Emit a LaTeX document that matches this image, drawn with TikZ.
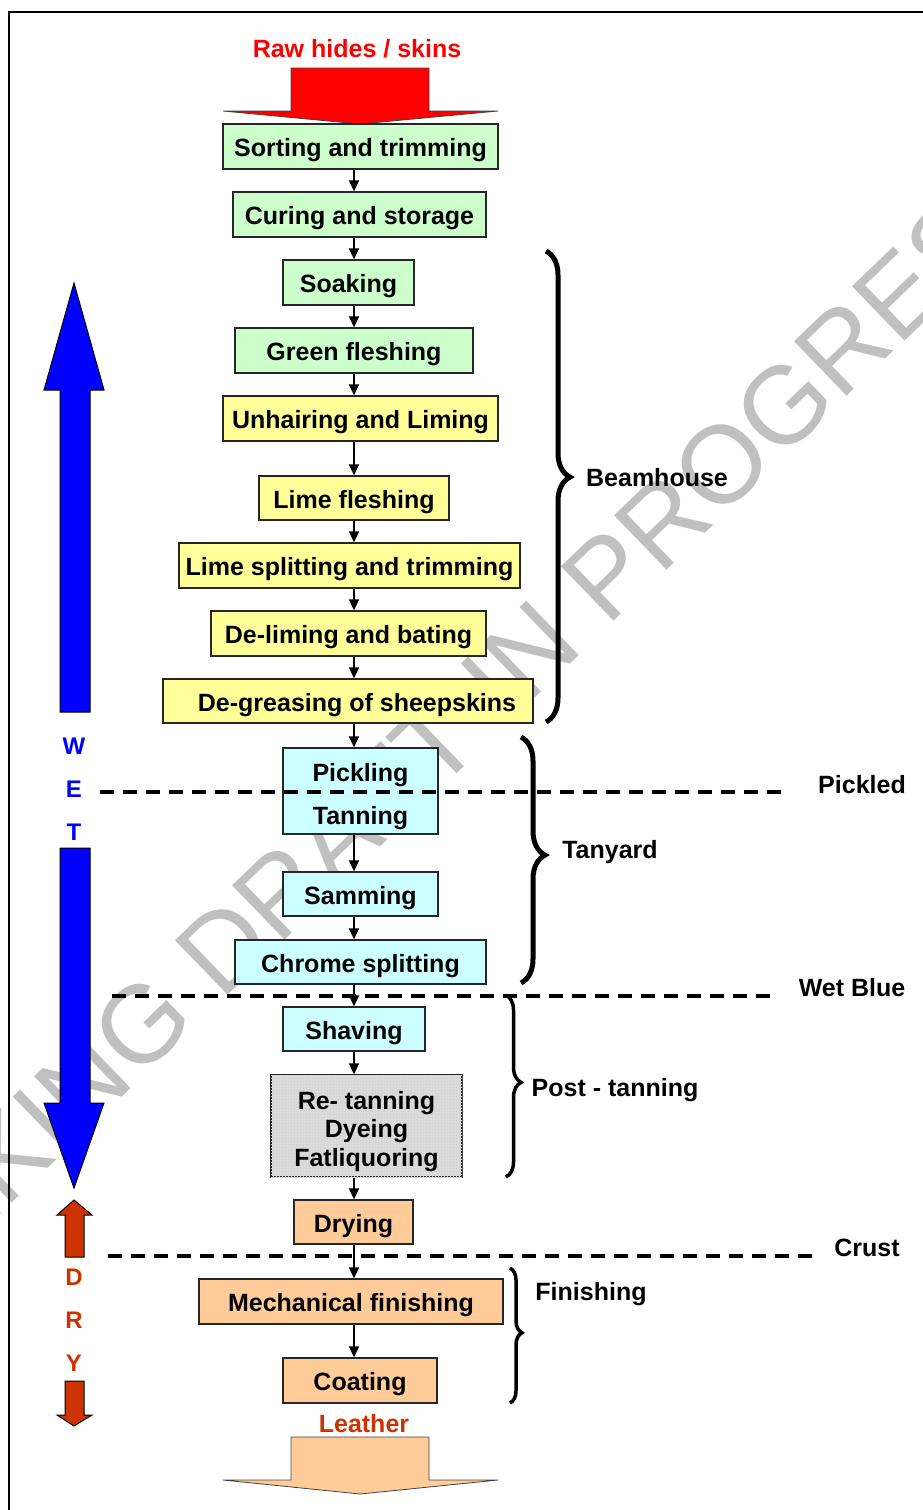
\documentclass[tikz,border=0pt]{standalone}
\usepackage{fontspec}
\setmainfont{Liberation Sans}
\usetikzlibrary{arrows.meta,decorations.pathreplacing,patterns}

\definecolor{stepgreen}{HTML}{CCFFCC}
\definecolor{stepyellow}{HTML}{FFFF99}
\definecolor{stepcyan}{HTML}{CCFFFF}
\definecolor{steporange}{HTML}{FFCC99}
\definecolor{stepgray}{HTML}{DCDCDC}
\definecolor{rawred}{HTML}{FF0000}
\definecolor{leatherred}{HTML}{CC3300}
\definecolor{wetblue}{HTML}{0000FF}
\definecolor{draftgray}{HTML}{C0C0C0}

\begin{document}
\begin{tikzpicture}[x=1pt,y=-1pt,
  stepbox/.style={rectangle,draw=black!85,line width=1.3pt,inner sep=0pt,align=center,
    text height=20pt,text depth=0pt,font=\bfseries\fontsize{25}{28}\selectfont},
  greenbox/.style={stepbox,fill=stepgreen},
  yellowbox/.style={stepbox,fill=stepyellow},
  cyanbox/.style={stepbox,fill=stepcyan},
  orangebox/.style={stepbox,fill=steporange},
  graybox/.style={stepbox,fill=stepgray,postaction={pattern=grid,pattern color=gray!32}},
  flowarrow/.style={-{Triangle[length=11pt,width=10pt]},line width=1.7pt},
  stagelbl/.style={font=\bfseries\fontsize{25}{28}\selectfont},
  sideletter/.style={font=\bfseries\fontsize{24}{26}\selectfont},
  stagedash/.style={line width=4pt,dash pattern=on 14pt off 9pt},
  stagebrace/.style={decorate,decoration={brace,amplitude=#1,aspect=0.48}},
  blockarrow/.style={draw=black!75,line width=0.8pt}]
\useasboundingbox (0,0) rectangle (923,1510);

% watermark
\node[rotate=44,text=draftgray,font=\fontsize{110}{110}\selectfont] (draft) at (408,768) {WORKING DRAFT IN PROGRESS};

% frame
\draw[line width=1.5pt] (9,1510) -- (9,12) -- (923,12);

% input
\node[stagelbl,text=rawred] (rawlbl) at (357,49) {Raw hides / skins};
\draw[blockarrow,fill=rawred] (291,68) -- (429,68) -- (429,111) -- (498,111) -- (360,124) -- (223,111) -- (291,111) -- cycle;

% process steps
\node[greenbox,minimum width=275,minimum height=45] (sort) at (360.5,146.5) {Sorting and trimming};
\node[greenbox,minimum width=253,minimum height=45] (cure) at (359.5,214.5) {Curing and storage};
\node[greenbox,minimum width=131,minimum height=45] (soak) at (348.5,282.5) {Soaking};
\node[greenbox,minimum width=238,minimum height=45] (greenfl) at (354,350.5) {Green fleshing};
\node[yellowbox,minimum width=275,minimum height=45] (unhair) at (360.5,418.5) {Unhairing and Liming};
\node[yellowbox,minimum width=190,minimum height=44] (limefl) at (354,498) {Lime fleshing};
\node[yellowbox,minimum width=341,minimum height=45] (limesplit) at (349.5,565.5) {Lime splitting and trimming};
\node[yellowbox,minimum width=275,minimum height=45] (delime) at (348.5,633.5) {De-liming and bating};
\node[yellowbox,minimum width=370,minimum height=44] (degrease) at (348,701) {\hspace*{18pt}De-greasing of sheepskins};
\node[cyanbox,minimum width=155,minimum height=86,text height=71pt,text depth=5pt] (pickle) at (360.5,791) {Pickling\\[15pt]Tanning};
\node[cyanbox,minimum width=155,minimum height=44] (samm) at (360.5,894) {Samming};
\node[cyanbox,minimum width=251,minimum height=44] (chrome) at (360.5,962) {Chrome splitting};
\node[cyanbox,minimum width=142,minimum height=44] (shave) at (354,1029) {Shaving};
\node[graybox,minimum width=191,minimum height=102,text height=85pt,text depth=5pt,
  font=\bfseries\fontsize{25}{28.5}\selectfont] (retan) at (366.5,1126) {Re- tanning\\Dyeing\\Fatliquoring};
\node[orangebox,minimum width=119,minimum height=44] (dry) at (353.5,1222) {Drying};
\node[orangebox,minimum width=304,minimum height=45] (mech) at (351,1301.5) {Mechanical finishing};
\node[orangebox,minimum width=154,minimum height=45] (coat) at (360,1380.5) {Coating};

% output
\node[stagelbl,text=leatherred] (leatherlbl) at (364,1424) {Leather};
\draw[blockarrow,fill=steporange] (291,1437) -- (429,1437) -- (429,1480) -- (498,1480) -- (360,1494) -- (223,1480) -- (291,1480) -- cycle;

% stage lines
\draw[stagedash] (100,792) -- (785,792);
\node[stagelbl] (pickledlbl) at (862,785) {Pickled};
\draw[stagedash] (112,996) -- (773,996);
\node[stagelbl] (wetbluelbl) at (852,988) {Wet Blue};
\draw[stagedash] (108,1256) -- (820,1256);
\node[stagelbl] (crustlbl) at (867,1248) {Crust};

% flow
\coordinate (spine) at (354,0);
\draw[flowarrow] (sort.south -| spine) -- (cure.north -| spine);
\draw[flowarrow] (cure.south -| spine) -- (soak.north -| spine);
\draw[flowarrow] (soak.south -| spine) -- (greenfl.north -| spine);
\draw[flowarrow] (greenfl.south -| spine) -- (unhair.north -| spine);
\draw[flowarrow] (unhair.south -| spine) -- (limefl.north -| spine);
\draw[flowarrow] (limefl.south -| spine) -- (limesplit.north -| spine);
\draw[flowarrow] (limesplit.south -| spine) -- (delime.north -| spine);
\draw[flowarrow] (delime.south -| spine) -- (degrease.north -| spine);
\draw[flowarrow] (degrease.south -| spine) -- (pickle.north -| spine);
\draw[flowarrow] (pickle.south -| spine) -- (samm.north -| spine);
\draw[flowarrow] (samm.south -| spine) -- (chrome.north -| spine);
\draw[flowarrow] (chrome.south -| spine) -- (shave.north -| spine);
\draw[flowarrow] (shave.south -| spine) -- (retan.north -| spine);
\draw[flowarrow] (retan.south -| spine) -- (dry.north -| spine);
\draw[flowarrow] (dry.south -| spine) -- (mech.north -| spine);
\draw[flowarrow] (mech.south -| spine) -- (coat.north -| spine);

% stages
\draw[stagebrace=24pt,line width=5pt] (546,251) -- (546,722);
\node[stagelbl] (beamlbl) at (657,478) {Beamhouse};
\draw[stagebrace=24pt,line width=5pt] (521,737) -- (521,983);
\node[stagelbl] (tanlbl) at (610,852) {Tanyard};
\draw[stagebrace=15pt,line width=3.5pt] (506,995) -- (506,1177);
\node[stagelbl] (postlbl) at (615,1090) {Post - tanning};
\draw[stagebrace=12pt,line width=3.5pt] (510,1268) -- (510,1403);
\node[stagelbl] (finlbl) at (591,1294) {Finishing};

% wet / dry side
\draw[line width=1pt,fill=wetblue] (60,712) -- (60,390) -- (44,390) -- (74,283) -- (104,390) -- (90,390) -- (90,712) -- cycle;
\node[sideletter,text=wetblue] (wetw) at (74,746) {W};
\node[sideletter,text=wetblue] (wete) at (74,789) {E};
\node[sideletter,text=wetblue] (wett) at (74,832) {T};
\draw[line width=1pt,fill=wetblue] (60,848) -- (90,848) -- (90,1103) -- (104,1103) -- (74,1188) -- (44,1103) -- (60,1103) -- cycle;
\draw[line width=1pt,fill=leatherred] (65,1257) -- (65,1215) -- (57,1215) -- (74,1200) -- (92,1215) -- (84,1215) -- (84,1257) -- cycle;
\node[sideletter,text=leatherred] (dryd) at (74,1277) {D};
\node[sideletter,text=leatherred] (dryr) at (74,1320) {R};
\node[sideletter,text=leatherred] (dryy) at (74,1363) {Y};
\draw[line width=1pt,fill=leatherred] (65,1381) -- (84,1381) -- (84,1415) -- (92,1415) -- (74,1426) -- (57,1415) -- (65,1415) -- cycle;

\end{tikzpicture}
\end{document}
